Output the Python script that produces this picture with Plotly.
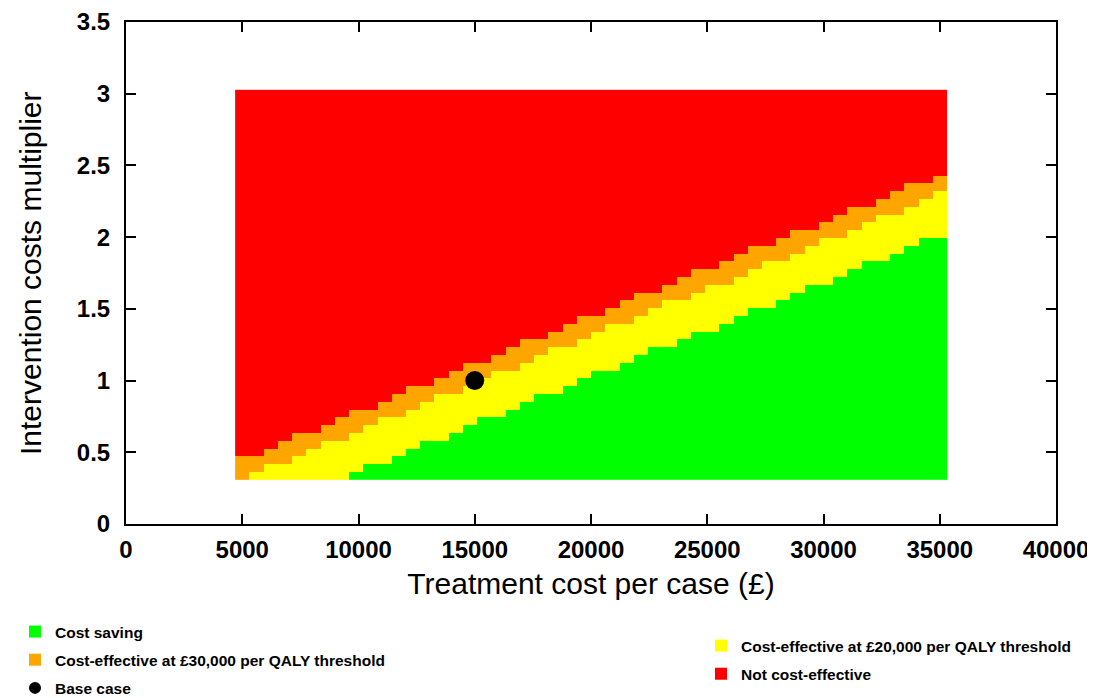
import numpy as np
import plotly.graph_objects as go

# ---- grid of the sensitivity analysis (cell centres) ----
treatment_cost_min, treatment_cost_max, n_cost = 5000, 35000, 50
multiplier_min, multiplier_max, n_mult = 1 / 3, 3.0, 50

# ---- per column (treatment cost), number of multiplier rows (from bottom)
#      falling below each threshold boundary ----
cost_saving_rows = [0, 0, 0, 0, 0, 0, 0, 0, 1, 2,
                    2, 3, 4, 5, 5, 6, 7, 8, 8, 9,
                    10, 11, 11, 12, 13, 14, 14, 15, 16, 17,
                    17, 18, 19, 19, 20, 21, 22, 22, 23, 24,
                    25, 25, 26, 27, 28, 28, 29, 30, 31, 31]
ce_20k_rows = [0, 1, 2, 2, 3, 4, 5, 5, 6, 7,
               8, 8, 9, 10, 11, 11, 12, 13, 14, 14,
               15, 16, 17, 17, 18, 19, 20, 20, 21, 22,
               23, 23, 24, 25, 25, 26, 27, 28, 28, 29,
               30, 31, 31, 32, 33, 34, 34, 35, 36, 37]
ce_30k_rows = [3, 3, 4, 5, 6, 6, 7, 8, 9, 9,
               10, 11, 12, 12, 13, 14, 15, 15, 16, 17,
               18, 18, 19, 20, 21, 21, 22, 23, 24, 24,
               25, 26, 27, 27, 28, 29, 30, 30, 31, 32,
               32, 33, 34, 35, 35, 36, 37, 38, 38, 39]

base_case_cost = [15000]
base_case_mult = [1.0]

categories = ["Cost saving",
              "Cost-effective at £20,000 per QALY threshold",
              "Cost-effective at £30,000 per QALY threshold",
              "Not cost-effective"]
cat_colors = ["#00ff00", "#ffff00", "#ffa500", "#ff0000"]

x_ticks = [0, 5000, 10000, 15000, 20000, 25000, 30000, 35000, 40000]
y_ticks = [0, 0.5, 1, 1.5, 2, 2.5, 3, 3.5]
x_title = "Treatment cost per case (£)"
y_title = "Intervention costs multiplier"

# ---- build category matrix ----
xs = np.linspace(treatment_cost_min, treatment_cost_max, n_cost)
ys = np.linspace(multiplier_min, multiplier_max, n_mult)
z = np.full((n_mult, n_cost), 3)
for j in range(n_cost):
    z[:ce_30k_rows[j], j] = 2
    z[:ce_20k_rows[j], j] = 1
    z[:cost_saving_rows[j], j] = 0

cs = []
for i, c in enumerate(cat_colors):
    cs.append([i / 4, c])
    cs.append([(i + 1) / 4, c])

fig = go.Figure()
fig.add_trace(go.Heatmap(x=xs, y=ys, z=z, colorscale=cs, zmin=-0.5, zmax=3.5,
                         showscale=False, zsmooth=False, hoverinfo="skip"))

fig.add_trace(go.Scatter(x=base_case_cost, y=base_case_mult, mode="markers",
                         marker=dict(color="black", size=19, line=dict(width=0)),
                         name="Base case", showlegend=False))

# legend entries
def legend_entry(name, color, symbol, legend, group):
    fig.add_trace(go.Scatter(x=[None], y=[None], mode="markers", name=name,
                             marker=dict(color=color, symbol=symbol, size=12,
                                         line=dict(width=0)),
                             legend=legend, legendgroup=group, showlegend=True))

legend_entry(categories[0], cat_colors[0], "square", "legend", "a")
legend_entry(categories[2], cat_colors[2], "square", "legend", "b")
legend_entry("Base case", "black", "circle", "legend", "c")
legend_entry(categories[1], cat_colors[1], "square", "legend2", "d")
legend_entry(categories[3], cat_colors[3], "square", "legend2", "e")

# page body has an 8px margin, so the figure is 8px smaller than the window
W, H = 1087, 690
ML, MR, MT, MB = 118, 39, 14, 174
font_fam = "Liberation Sans, Arial, sans-serif"
leg_common = dict(font=dict(family=font_fam, size=15.5, color="black", weight="bold"),
                  itemsizing="constant", traceorder="grouped", tracegroupgap=5,
                  bgcolor="rgba(0,0,0,0)", borderwidth=0,
                  xref="container", yref="container", xanchor="left", yanchor="top")

fig.update_layout(
    width=W, height=H,
    margin=dict(l=ML, r=MR, t=MT, b=MB, autoexpand=False),
    plot_bgcolor="white", paper_bgcolor="white",
    font=dict(family=font_fam, color="black"),
    legend=dict(x=7 / W, y=1 - 607 / H, **leg_common),
    legend2=dict(x=693 / W, y=1 - 621 / H, **leg_common),
    xaxis=dict(range=[0, 40000], tickvals=x_ticks, ticktext=[str(v) for v in x_ticks],
               ticks="inside", ticklen=10, tickwidth=2, tickcolor="black",
               showline=True, linewidth=2, linecolor="black", mirror="ticks",
               showgrid=False, zeroline=False, automargin=True, tickangle=0,
               ticklabelstandoff=3,
               tickfont=dict(size=24, weight="bold", family=font_fam),
               title=dict(text=x_title, font=dict(size=30), standoff=11)),
    yaxis=dict(range=[0, 3.5], tickvals=y_ticks, ticktext=[f"{v:g}" for v in y_ticks],
               ticks="inside", ticklen=10, tickwidth=2, tickcolor="black",
               showline=True, linewidth=2, linecolor="black", mirror="ticks",
               showgrid=False, zeroline=False, automargin=False,
               ticklabelstandoff=9,
               tickfont=dict(size=24, weight="bold", family=font_fam)),
    annotations=[dict(text=y_title, textangle=-90, showarrow=False,
                      xref="paper", yref="paper",
                      x=(22 - ML) / (W - ML - MR), y=0.5,
                      xanchor="center", yanchor="middle",
                      font=dict(size=30, family=font_fam, color="black"))],
)

fig.write_html("out.html")
